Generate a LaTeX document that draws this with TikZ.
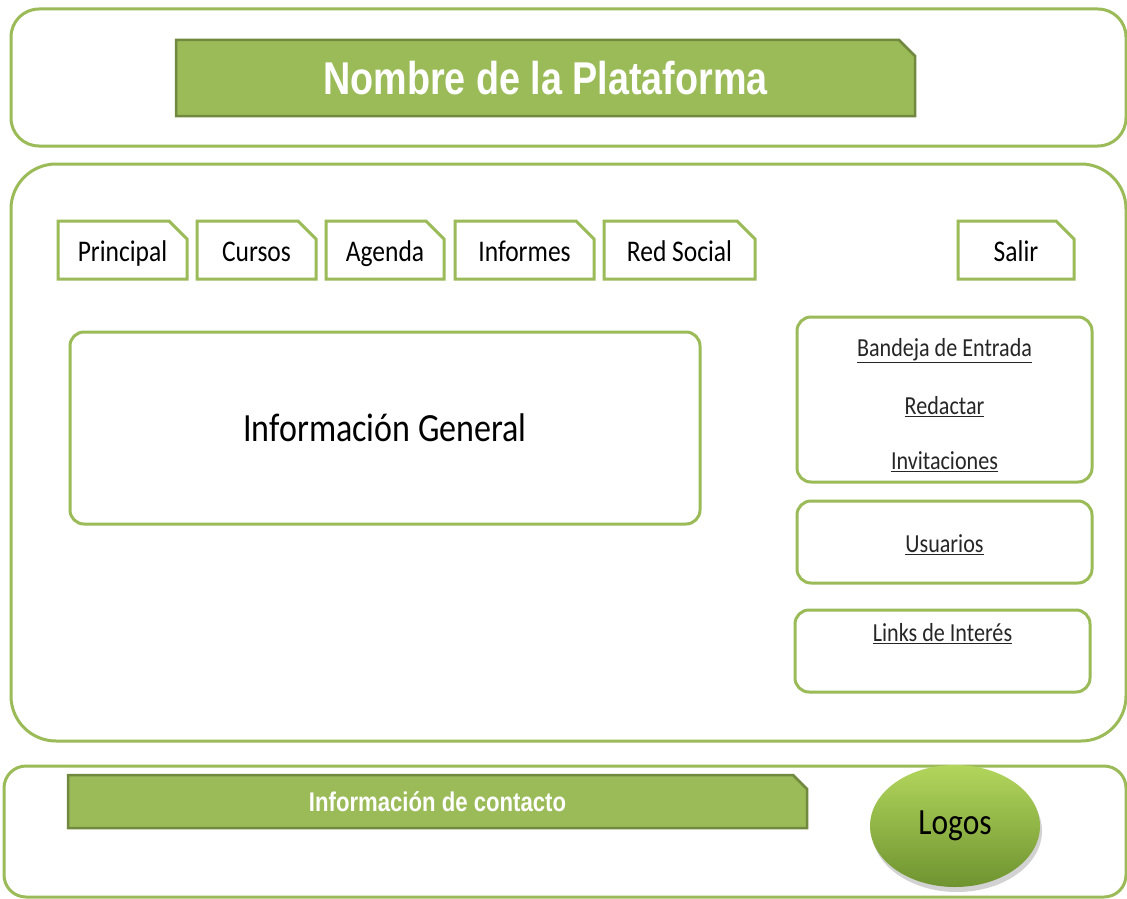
\documentclass[tikz,border=0pt]{standalone}
\usepackage{fontspec}
\usetikzlibrary{shapes.misc,shapes.geometric,shadows}
\newfontfamily\calib[FakeStretch=0.85]{Carlito}
\newfontfamily\arialb[FakeStretch=0.82]{Liberation Sans}
\definecolor{lgreen}{HTML}{9BBB59}
\definecolor{dgreen}{HTML}{71893F}
\definecolor{logotop}{HTML}{B2D65C}
\definecolor{logobot}{HTML}{6F9330}
\tikzset{
  frame/.style={draw=lgreen, line width=3pt},
  banner/.style={chamfered rectangle, chamfered rectangle corners=north east,
    chamfered rectangle xsep=8pt, chamfered rectangle ysep=8pt,
    fill=lgreen, draw=dgreen, line width=2.5pt, inner sep=0pt, text=white},
  tabbox/.style={chamfered rectangle, chamfered rectangle corners=north east,
    chamfered rectangle xsep=9pt, chamfered rectangle ysep=9pt,
    draw=lgreen, fill=white, line width=3pt, inner sep=0pt, minimum height=58pt,
    text height=22pt, text depth=0pt,
    font=\calib\fontsize{30}{34}\selectfont},
  panel/.style={draw=lgreen, line width=3pt, rounded corners=14pt, fill=white, inner sep=0pt},
  link/.style={font=\calib\fontsize{26}{30}\selectfont, text=black!85, inner sep=0pt}
}
\begin{document}
\begin{tikzpicture}[x=1pt,y=-1pt]
\useasboundingbox (0,0) rectangle (1127,899);
\fill[white] (0,0) rectangle (1127,899);
% outer frames
\draw[frame, rounded corners=28pt] (11,9) rectangle (1126,146);
\draw[frame, rounded corners=45pt] (11,164) rectangle (1126,741);
\draw[frame, rounded corners=22pt] (4,766) rectangle (1126,897);
% title banner
\node[banner, minimum width=739pt, minimum height=76pt,
  font=\arialb\bfseries\fontsize{46}{50}\selectfont] (title) at (545.5,78) {Nombre de la Plataforma};
% tabs
\node[tabbox, minimum width=129pt] (principal) at (122.5,250) {Principal};
\node[tabbox, minimum width=119pt] (cursos) at (256.5,250) {Cursos};
\node[tabbox, minimum width=118pt] (agenda) at (385,250) {Agenda};
\node[tabbox, minimum width=139pt] (informes) at (524.5,250) {Informes};
\node[tabbox, minimum width=151pt] (redsocial) at (679.5,250) {Red Social};
\node[tabbox, minimum width=116pt] (salir) at (1016,250) {Salir};
% main info
\node[panel, minimum width=630pt, minimum height=192pt,
  font=\calib\fontsize{40}{44}\selectfont] (infogen) at (385,428) {Información General};
% right panels
\node[panel, minimum width=295pt, minimum height=165pt] (mail) at (944.5,399.5) {};
\node[link] (bandeja) at (944.5,351) {\underline{Bandeja de Entrada}};
\node[link] (redactar) at (944.5,407) {\underline{Redactar}};
\node[link] (invit) at (944.5,462) {\underline{Invitaciones}};
\node[panel, minimum width=295pt, minimum height=82pt] (usr) at (944.5,542) {};
\node[link] (usuarios) at (944.5,545) {\underline{Usuarios}};
\node[panel, minimum width=295pt, minimum height=82pt] (lnk) at (942.5,651) {};
\node[link] (links) at (942.5,634) {\underline{Links de Interés}};
% footer
\node[banner, minimum width=739pt, minimum height=53pt, chamfered rectangle ysep=6pt,
  font=\arialb\bfseries\fontsize{27}{30}\selectfont] (contacto) at (437.5,801.5) {Información de contacto};
\node[ellipse, minimum width=170pt, minimum height=122pt, top color=logotop, bottom color=logobot,
  draw=none, drop shadow={opacity=0.35, shadow xshift=2pt, shadow yshift=-5pt},
  font=\calib\fontsize{37}{40}\selectfont] (logos) at (955,826) {Logos};
\end{tikzpicture}
\end{document}
